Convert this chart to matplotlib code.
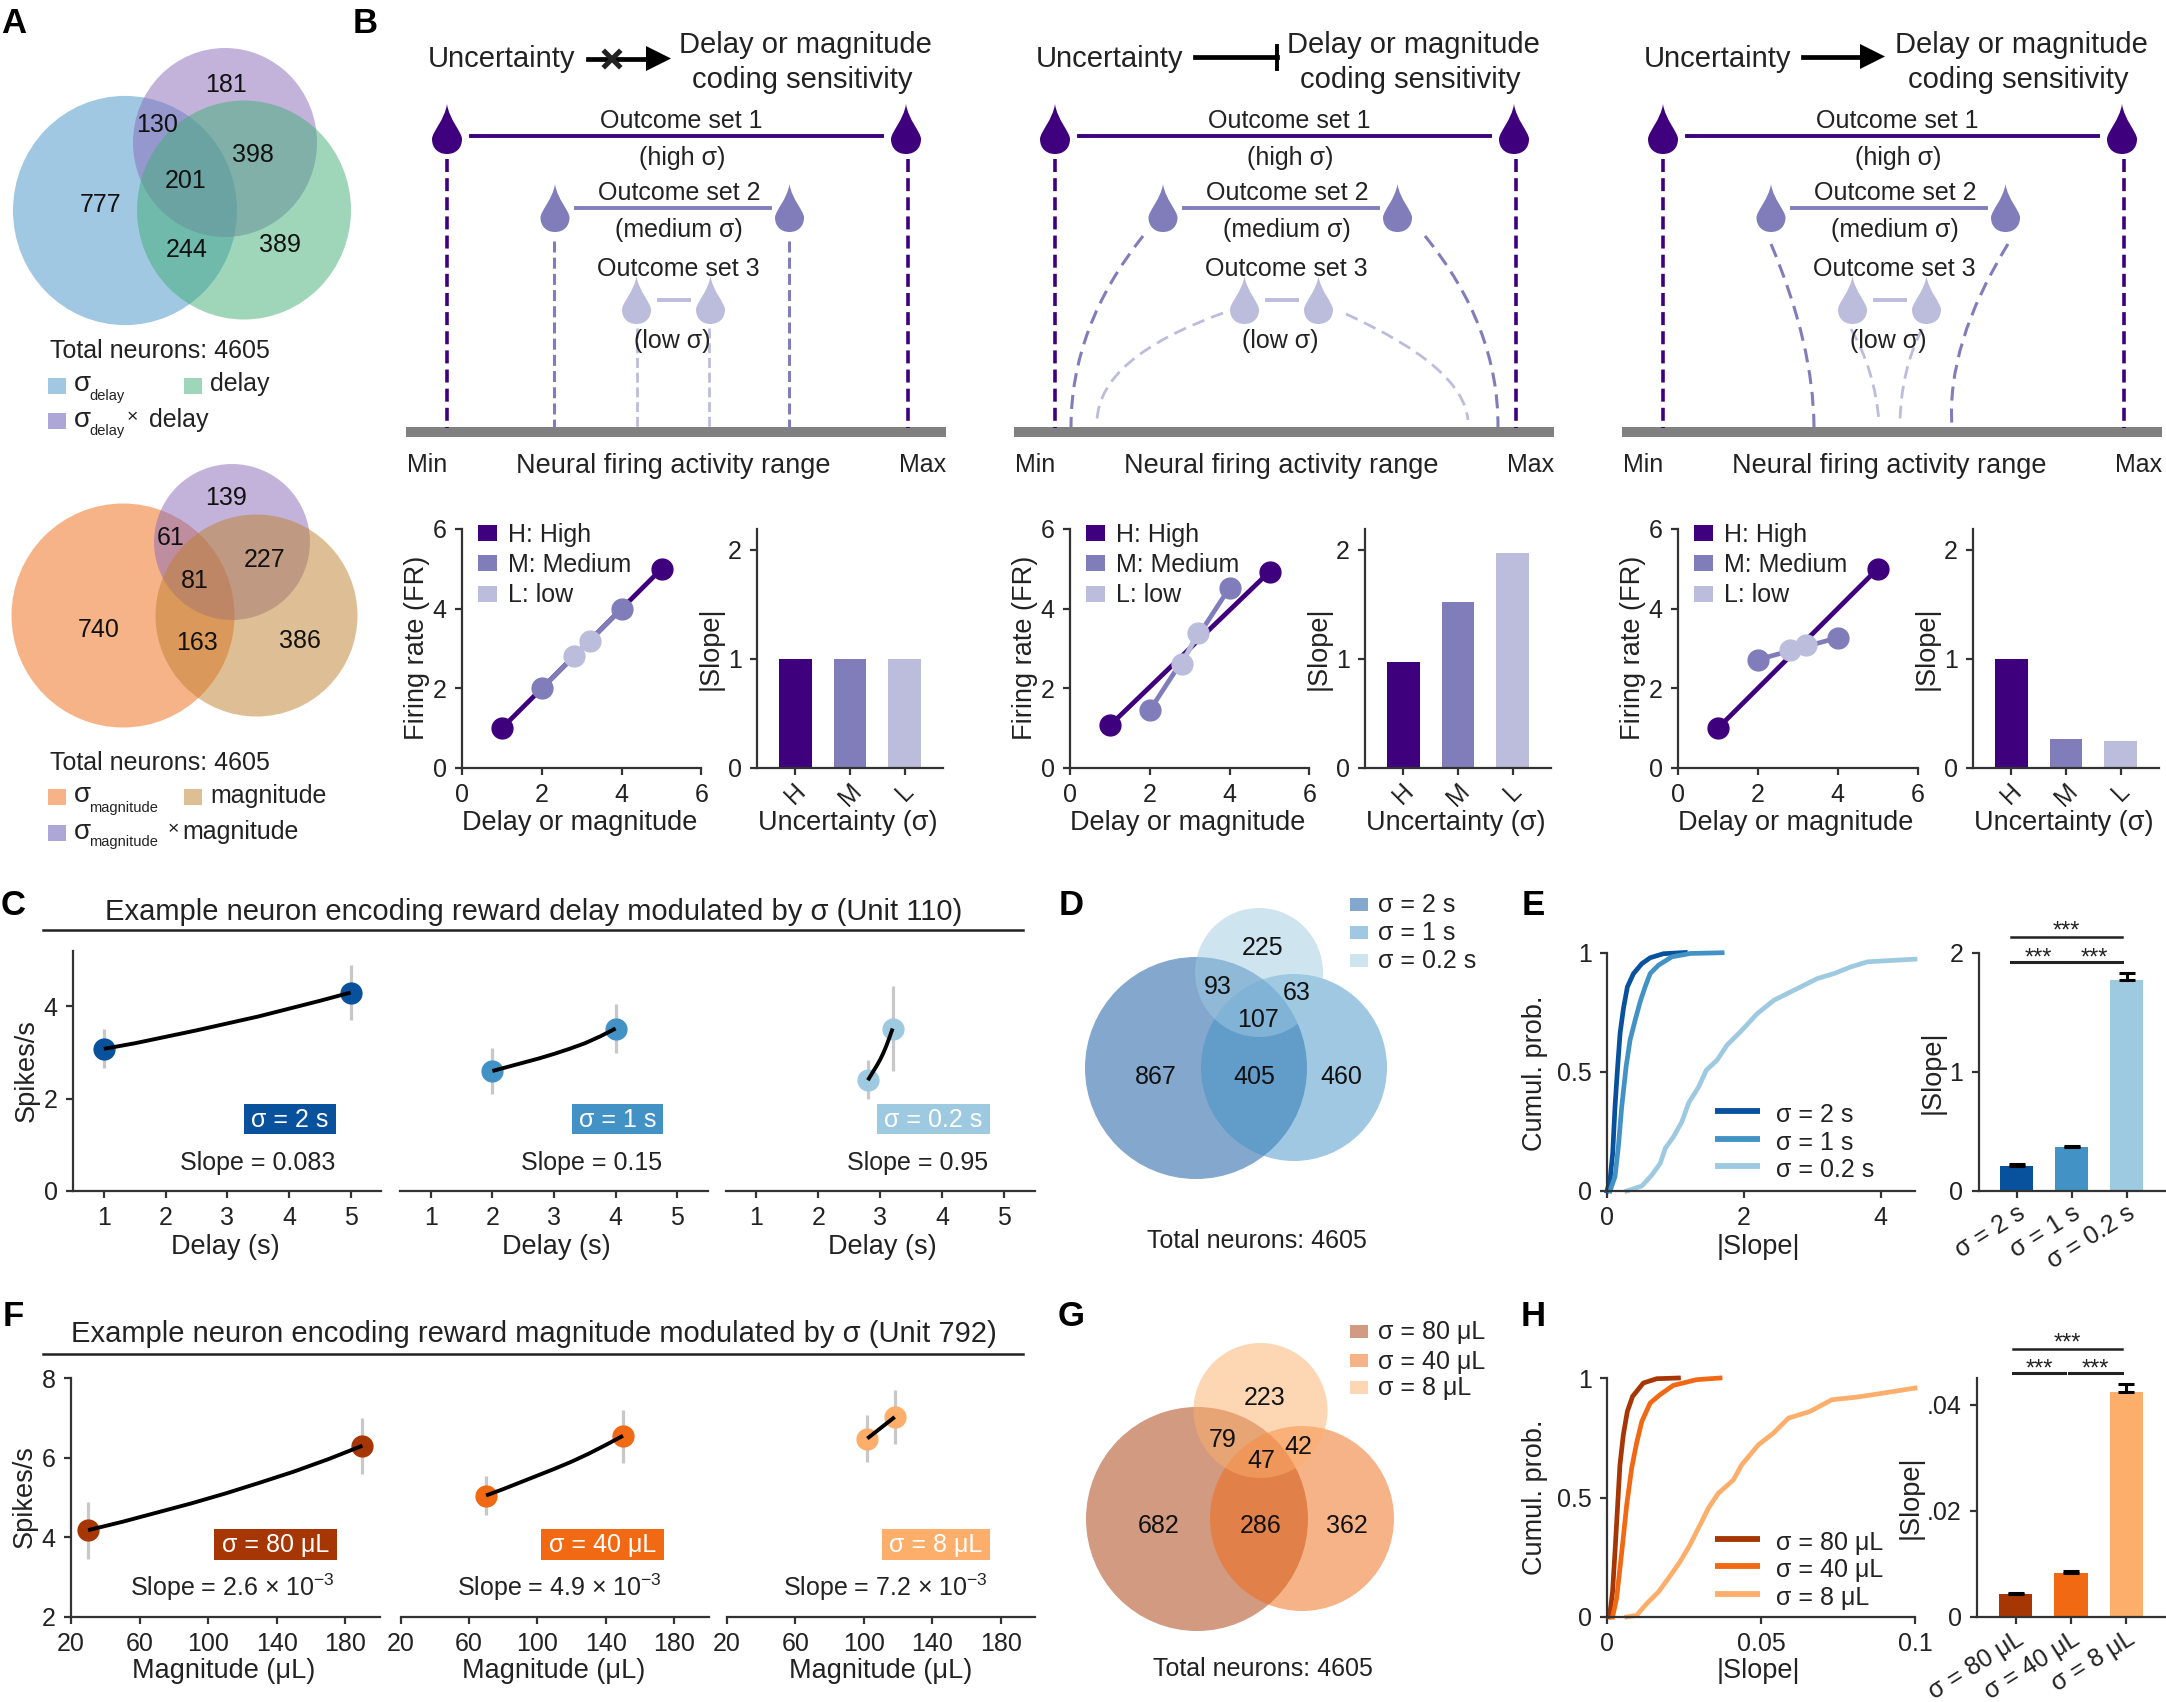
import matplotlib
matplotlib.use("Agg")
import matplotlib.pyplot as plt
from matplotlib.patches import Ellipse, PathPatch, Polygon, Rectangle
from matplotlib.path import Path

plt.rcParams["font.family"] = ["Liberation Sans", "DejaVu Sans"]
plt.rcParams["mathtext.fontset"] = "custom"
plt.rcParams["mathtext.rm"] = "Liberation Sans"
plt.rcParams["mathtext.default"] = "regular"

W, H = 2166, 1702
INK = "#222222"
SPINE = "#333333"

PURPLES = ["#3f007d", "#807dba", "#bcbddc"]
BLUES = ["#08519c", "#4292c6", "#9ecae1"]
ORANGES = ["#a63603", "#f16913", "#fdae6b"]

# panel A
A_TOP_COUNTS = ["181", "130", "398", "201", "777", "244", "389"]
A_BOTTOM_COUNTS = ["139", "61", "227", "81", "740", "163", "386"]
D_COUNTS = ["225", "93", "63", "107", "867", "405", "460"]
G_COUNTS = ["223", "79", "42", "47", "682", "286", "362"]

# panel B
B_LEVELS = ["H", "M", "L"]
B_LEGEND = ["H: High", "M: Medium", "L: low"]
B_HIGH_X = [1, 5]
B_MED_X = [2, 4]
B_LOW_X = [2.8, 3.2]
B_HIGH_Y = [[1, 5], [1.07, 4.93], [1, 5]]
B_MED_Y = [[2, 4], [1.45, 4.53], [2.72, 3.27]]
B_LOW_Y = [[2.8, 3.2], [2.6, 3.4], [2.95, 3.08]]
B_SLOPES = [[1, 1, 1], [0.97, 1.52, 1.97], [1, 0.27, 0.25]]

# panel C
C_X = [[1, 5], [2, 4], [2.8, 3.2]]
C_Y = [[3.08, 4.3], [2.6, 3.52], [2.4, 3.52]]
C_LOW = [[2.67, 3.7], [2.1, 3.0], [2.0, 2.6]]
C_HIGH = [[3.5, 4.9], [3.1, 4.05], [2.83, 4.45]]
C_FIT_X = [
    [1, 1.5, 2, 2.5, 3, 3.5, 4, 4.5, 5],
    [2, 2.25, 2.5, 2.75, 3, 3.25, 3.5, 3.75, 4],
    [2.8, 2.85, 2.9, 2.95, 3.0, 3.05, 3.1, 3.15, 3.2],
]
C_FIT_Y = [
    [3.08, 3.2, 3.34, 3.48, 3.63, 3.78, 3.95, 4.12, 4.3],
    [2.6, 2.69, 2.78, 2.87, 2.97, 3.08, 3.2, 3.35, 3.52],
    [2.4, 2.51, 2.62, 2.73, 2.85, 2.99, 3.15, 3.33, 3.52],
]
C_SIGMA = ["σ = 2 s", "σ = 1 s", "σ = 0.2 s"]
C_SLOPE = ["Slope = 0.083", "Slope = 0.15", "Slope = 0.95"]

# panel F
F_X = [[30, 190], [70, 150], [102, 118]]
F_Y = [[4.18, 6.3], [5.05, 6.55], [6.48, 7.02]]
F_LOW = [[3.45, 5.6], [4.55, 5.87], [5.9, 6.35]]
F_HIGH = [[4.88, 7.0], [5.55, 7.2], [7.07, 7.7]]
F_FIT_X = [
    [30, 50, 70, 90, 110, 130, 150, 170, 190],
    [70, 80, 90, 100, 110, 120, 130, 140, 150],
    [102, 110, 118],
]
F_FIT_Y = [
    [4.18, 4.39, 4.62, 4.85, 5.1, 5.37, 5.65, 5.96, 6.3],
    [5.05, 5.21, 5.38, 5.55, 5.72, 5.9, 6.1, 6.32, 6.55],
    [6.48, 6.75, 7.02],
]
F_SIGMA = ["σ = 80 μL", "σ = 40 μL", "σ = 8 μL"]
F_SLOPE = ["Slope = 2.6 × 10$^{-3}$", "Slope = 4.9 × 10$^{-3}$", "Slope = 7.2 × 10$^{-3}$"]

# panel E
E_X = [
    [0, 0.044, 0.083, 0.117, 0.152, 0.191, 0.24, 0.298, 0.386, 0.508, 0.631, 0.826, 1.144],
    [0.044, 0.117, 0.166, 0.215, 0.279, 0.337, 0.411, 0.484, 0.557, 0.631, 0.753, 0.949, 1.218, 1.682],
    [0.289, 0.509, 0.655, 0.778, 0.851, 0.973, 1.095, 1.193, 1.34, 1.452, 1.609, 1.755, 1.951, 2.196,
     2.44, 2.782, 3.076, 3.32, 3.565, 3.809, 4.054, 4.5],
]
E_Y = [
    [0, 0.046, 0.158, 0.353, 0.507, 0.661, 0.765, 0.856, 0.911, 0.953, 0.978, 0.995, 1],
    [0, 0.06, 0.186, 0.353, 0.521, 0.633, 0.716, 0.793, 0.856, 0.912, 0.947, 0.982, 0.996, 0.999],
    [0, 0.021, 0.067, 0.116, 0.179, 0.228, 0.291, 0.369, 0.437, 0.507, 0.549, 0.612, 0.668, 0.744,
     0.8, 0.849, 0.891, 0.912, 0.94, 0.961, 0.965, 0.972],
]
E_MEANS = [0.21, 0.365, 1.77]
E_ERR = [0.015, 0.015, 0.06]

# panel H
H_X = [
    [0.0008, 0.0018, 0.0026, 0.0034, 0.0042, 0.0053, 0.0066, 0.0083, 0.0118, 0.0161, 0.0232],
    [0.0018, 0.0031, 0.0048, 0.0064, 0.008, 0.0096, 0.0113, 0.014, 0.0172, 0.0215, 0.0291, 0.0367],
    [0.0064, 0.0096, 0.0129, 0.0167, 0.0199, 0.0237, 0.0269, 0.0302, 0.0329, 0.0361, 0.041, 0.0437,
     0.0491, 0.054, 0.0589, 0.0659, 0.073, 0.0811, 0.0898, 0.1],
]
H_Y = [
    [0, 0.105, 0.273, 0.455, 0.636, 0.762, 0.86, 0.923, 0.979, 0.997, 1],
    [0, 0.077, 0.273, 0.469, 0.622, 0.727, 0.818, 0.895, 0.93, 0.969, 0.993, 1],
    [0, 0.007, 0.056, 0.105, 0.161, 0.231, 0.301, 0.385, 0.455, 0.517, 0.573, 0.636,
     0.72, 0.769, 0.832, 0.86, 0.909, 0.92, 0.937, 0.958],
]
H_MEANS = [0.0044, 0.0083, 0.0423]
H_ERR = [0.0002, 0.0003, 0.0016]

fig = plt.figure(figsize=(W / 100, H / 100), dpi=100)
bg = fig.add_axes([0, 0, 1, 1])
bg.set_xlim(0, W)
bg.set_ylim(H, 0)
bg.axis("off")


def label(x, y, s, size=18, ha="center", va="center", color=INK, **kw):
    # text sat about 2px high against the reference
    return bg.text(x, y + 2, s, fontsize=size, ha=ha, va=va, color=color, **kw)


def panel_axes(left, right, top, bottom):
    ax = fig.add_axes([left / W, 1 - bottom / H, (right - left) / W, (bottom - top) / H])
    ax.patch.set_alpha(0)
    ax.spines["top"].set_visible(False)
    ax.spines["right"].set_visible(False)
    for side in ["left", "bottom"]:
        ax.spines[side].set_linewidth(1.6)
        ax.spines[side].set_color(SPINE)
    ax.tick_params(labelsize=18, width=1.6, length=5, color=SPINE, labelcolor=INK, pad=6)
    return ax


def set_labels(ax, xlabel=None, xpos=None, ylabel=None, ypos=None, size=19.5):
    if xlabel:
        ax.set_xlabel(xlabel, fontsize=size, color=INK, va="center")
        ax.xaxis.set_label_coords(xpos[0], xpos[1] + 2.5, transform=bg.transData)
    if ylabel:
        ax.set_ylabel(ylabel, fontsize=size, color=INK, va="center")
        ax.yaxis.set_label_coords(ypos[0], ypos[1], transform=bg.transData)


def venn(shapes, counts, spots):
    for (cx, cy, rx, ry, color) in shapes:
        bg.add_patch(Ellipse((cx, cy), 2 * rx, 2 * ry, facecolor=color, edgecolor="none", alpha=0.5))
    for s, (x, y) in zip(counts, spots):
        label(x, y, s, size=18, color="#111111")


def swatch(x, y, color, alpha=0.5, w=18, h=16):
    bg.add_patch(Rectangle((x, y - h / 2), w, h, facecolor=color, edgecolor="none", alpha=alpha))


def drop(cx, top, bottom, r, color):
    cy = bottom - r
    verts = [
        (cx, top),
        (cx + 0.15 * r, top + 0.45 * (cy - top)), (cx + r, cy - 0.45 * r), (cx + r, cy),
        (cx + r, cy + 0.6 * r), (cx + 0.6 * r, bottom), (cx, bottom),
        (cx - 0.6 * r, bottom), (cx - r, cy + 0.6 * r), (cx - r, cy),
        (cx - r, cy - 0.45 * r), (cx - 0.15 * r, top + 0.45 * (cy - top)), (cx, top),
    ]
    codes = [Path.MOVETO] + [Path.CURVE4] * 12
    bg.add_patch(PathPatch(Path(verts, codes), facecolor=color, edgecolor="none"))


def dash_curve(p0, mid, p1, color, lw):
    ctrl = (2 * mid[0] - 0.5 * (p0[0] + p1[0]), 2 * mid[1] - 0.5 * (p0[1] + p1[1]))
    path = Path([p0, ctrl, p1], [Path.MOVETO, Path.CURVE3, Path.CURVE3])
    bg.add_patch(PathPatch(path, facecolor="none", edgecolor=color, linewidth=lw, linestyle=(0, (4.6, 2.6))))


def dash_line(x, y0, y1, color, lw):
    bg.plot([x, x], [y0, y1], color=color, linewidth=lw, linestyle=(0, (3.6, 1.7)))


def draw_schematic(dx, mode):
    label(428 + dx, 57, "Uncertainty", size=21, ha="left")
    label(805 + dx, 43, "Delay or magnitude", size=21)
    label(802 + dx, 78, "coding sensitivity", size=21)

    drop(447 + dx, 104, 154, 15, PURPLES[0])
    drop(906 + dx, 104, 154, 15, PURPLES[0])
    bg.plot([471 + dx, 882 + dx], [135.5, 135.5], color=PURPLES[0], linewidth=2.8)
    label(681 + dx, 119.5, "Outcome set 1")
    label(682 + dx, 156, "(high σ)")

    drop(555 + dx, 184, 232, 14.5, PURPLES[1])
    drop(789.5 + dx, 184, 232, 14.5, PURPLES[1])
    bg.plot([576 + dx, 770 + dx], [208, 208], color=PURPLES[1], linewidth=2.8)
    label(679 + dx, 191, "Outcome set 2")
    label(679 + dx, 227.5, "(medium σ)")

    drop(636.5 + dx, 276, 324, 14.5, PURPLES[2])
    drop(710.5 + dx, 276, 324, 14.5, PURPLES[2])
    bg.plot([659 + dx, 689 + dx], [299.5, 299.5], color=PURPLES[2], linewidth=2.8)
    label(678.5 + dx, 266.5, "Outcome set 3")
    label(672 + dx, 339, "(low σ)")

    dash_line(447 + dx, 159, 428, PURPLES[0], 2.6)
    dash_line(908 + dx, 159, 428, PURPLES[0], 2.6)
    if mode == "none":
        dash_line(553.5, 241, 428, PURPLES[1], 2.2)
        dash_line(789, 241, 428, PURPLES[1], 2.2)
        dash_line(636.5, 328, 428, PURPLES[2], 2.0)
        dash_line(708.5, 328, 428, PURPLES[2], 2.0)
    elif mode == "inhibit":
        dash_curve((1143, 236), (1089, 329), (1071, 427), PURPLES[1], 2.2)
        dash_curve((1425, 236), (1480, 329), (1498, 427), PURPLES[1], 2.2)
        dash_curve((1223, 313), (1130, 362), (1097, 420), PURPLES[2], 2.0)
        dash_curve((1346, 314), (1435, 367), (1468, 420), PURPLES[2], 2.0)
    else:
        dash_curve((1771, 244), (1803, 340), (1814, 427), PURPLES[1], 2.2)
        dash_curve((2008, 244), (1963, 340), (1952, 427), PURPLES[1], 2.2)
        dash_curve((1851, 329), (1870, 373), (1879, 422), PURPLES[2], 2.0)
        dash_curve((1922, 329), (1906, 373), (1900, 422), PURPLES[2], 2.0)

    bg.add_patch(Rectangle((406 + dx, 427), 540, 9.5, facecolor="#808080", edgecolor="none"))
    label(407 + dx, 463.5, "Min", ha="left")
    label(673 + dx, 464, "Neural firing activity range", size=19.5)
    label(946 + dx, 463.5, "Max", ha="right")


def draw_b_charts(i, dx):
    ax = panel_axes(462 + dx, 701.5 + dx, 529, 768)
    ax.plot(B_HIGH_X, B_HIGH_Y[i], color=PURPLES[0], linewidth=3.4, marker="o", markersize=15, clip_on=False)
    ax.plot(B_MED_X, B_MED_Y[i], color=PURPLES[1], linewidth=3.4, marker="o", markersize=15, clip_on=False)
    ax.plot(B_LOW_X, B_LOW_Y[i], color=PURPLES[2], linewidth=3.4, marker="o", markersize=15, clip_on=False)
    ax.set_xlim(0, 6)
    ax.set_ylim(0, 6)
    ax.set_xticks([0, 2, 4, 6])
    ax.set_yticks([0, 2, 4, 6])
    set_labels(ax, "Delay or magnitude", (580 + dx, 821), "Firing rate (FR)", (417 + dx, 648))
    for s, y, c in zip(B_LEGEND, [533, 563, 593.5], PURPLES):
        swatch(478 + dx, y, c, alpha=1, w=19, h=16)
        label(508 + dx, y, s, ha="left")

    ax = panel_axes(757 + dx, 943 + dx, 529, 768)
    ax.bar(range(3), B_SLOPES[i], width=0.6, color=PURPLES)
    ax.set_xlim(-0.7, 2.7)
    ax.set_ylim(0, 2.19)
    ax.set_yticks([0, 1, 2])
    ax.set_xticks(range(3))
    ax.set_xticklabels(B_LEVELS, rotation=45)
    ax.tick_params(axis="x", pad=3)
    set_labels(ax, "Uncertainty (σ)", (848 + dx, 821), "|Slope|", (711 + dx, 648))


def draw_example(left, right, top, bottom, xs, ys, low, high, fit_x, fit_y, color, xlim, ylim, xticks):
    ax = panel_axes(left, right, top, bottom)
    ax.vlines(xs, low, high, color="#c8c8c8", linewidth=2.3, zorder=2)
    ax.plot(xs, ys, linestyle="none", marker="o", markersize=15, color=color, zorder=3, clip_on=False)
    ax.plot(fit_x, fit_y, color="black", linewidth=2.8, zorder=4, solid_capstyle="butt")
    ax.set_xlim(*xlim)
    ax.set_ylim(*ylim)
    ax.set_xticks(xticks)
    return ax


def draw_bars(left, right, top, bottom, means, errs, colors, ticklabels, ylim, yticks, ylabels, yl_pos):
    ax = panel_axes(left, right, top, bottom)
    ax.bar(range(3), means, width=0.6, color=colors)
    ax.errorbar(range(3), means, yerr=[[0, 0, 0], errs], fmt="none", ecolor="black",
                elinewidth=2.2, capsize=5.5, capthick=2.2)
    ax.set_xlim(-0.7, 2.7)
    ax.set_ylim(*ylim)
    ax.set_yticks(yticks)
    ax.set_yticklabels(ylabels)
    ax.set_xticks(range(3))
    ax.set_xticklabels(ticklabels, rotation=32, ha="right", rotation_mode="anchor")
    ax.tick_params(axis="x", pad=2)
    set_labels(ax, ylabel="|Slope|", ypos=yl_pos)
    return ax


def brackets(x0, xm0, xm1, x1, y_top, y_low, y_star_top, y_star_low):
    bg.plot([x0, x1], [y_top, y_top], color="#222222", linewidth=1.8)
    bg.plot([x0, xm0], [y_low, y_low], color="#222222", linewidth=2.2)
    bg.plot([xm1, x1], [y_low, y_low], color="#222222", linewidth=2.2)
    label((x0 + x1) / 2, y_star_top + 3, "***", size=17)
    label((x0 + xm0) / 2, y_star_low + 3, "***", size=17)
    label((xm1 + x1) / 2, y_star_low + 3, "***", size=17)


# panel letters
for s, x, y in [("A", 1, 31), ("B", 353, 31), ("C", 1, 913), ("D", 1059, 913), ("E", 1522, 913),
                ("F", 3, 1324), ("G", 1058, 1324), ("H", 1521, 1324)]:
    label(x, y, s, size=25, ha="left", va="baseline", color="black", fontweight="bold")

# A
venn([(125, 210.5, 112, 114.6, "#4292c6"), (225, 142.5, 92, 94.5, "#8969b9"), (244, 210, 107, 109.5, "#41ae76")],
     A_TOP_COUNTS,
     [(226, 83), (157, 123), (253, 153.5), (186, 179), (101, 203.5), (187, 248), (280, 242.5)])
label(50, 349.5, "Total neurons: 4605", ha="left")
swatch(48, 386, "#4292c6")
label(74, 382, "σ", size=20, ha="left")
label(89, 394, "delay", size=10.5, ha="left")
swatch(184, 386, "#41ae76")
label(210, 382, "delay", ha="left")
swatch(48, 421, "#aca7d7", alpha=1)
label(74, 418, "σ", size=20, ha="left")
label(89, 429, "delay", size=10.5, ha="left")
label(127, 416, "×", size=14, ha="left")
label(149, 418, "delay", ha="left")

venn([(123, 615.5, 111.5, 112, "#f16913"), (232, 542, 78, 78, "#8969b9"), (256.5, 615.5, 101, 101, "#bf812d")],
     A_BOTTOM_COUNTS,
     [(226, 496), (171, 536), (265, 558), (195, 579), (99, 628), (196.5, 641), (300, 638.5)])
label(50, 761, "Total neurons: 4605", ha="left")
swatch(48, 797, "#f16913")
label(74, 793, "σ", size=20, ha="left")
label(89, 806, "magnitude", size=10.5, ha="left")
swatch(184, 797, "#bf812d")
label(210, 794, "magnitude", ha="left")
swatch(48, 833, "#aca7d7", alpha=1)
label(74, 830, "σ", size=20, ha="left")
label(89, 840, "magnitude", size=10.5, ha="left")
label(168, 828, "×", size=14, ha="left")
label(182.5, 830, "magnitude", ha="left")

# B
for i, (dx, mode) in enumerate([(0, "none"), (608, "inhibit"), (1216, "excite")]):
    draw_schematic(dx, mode)
    draw_b_charts(i, dx)

bg.plot([588, 650], [58.5, 58.5], color="black", linewidth=3.4)
bg.add_patch(Polygon([(646, 46), (671, 58.5), (646, 71)], facecolor="black", edgecolor="none"))
bg.plot([605, 619], [52, 66], color="#222222", linewidth=3.6)
bg.plot([605, 619], [66, 52], color="#222222", linewidth=3.6)

bg.plot([1195, 1277], [56.5, 56.5], color="black", linewidth=3.4)
bg.plot([1277, 1277], [46, 69], color="black", linewidth=2.8)

bg.plot([1803, 1865], [56.5, 56.5], color="black", linewidth=3.4)
bg.add_patch(Polygon([(1860, 44), (1885, 56.5), (1860, 69)], facecolor="black", edgecolor="none"))

# C
label(534, 909.5, "Example neuron encoding reward delay modulated by σ (Unit 110)", size=21)
bg.plot([43, 1023], [930, 930], color="#222222", linewidth=1.8)
c_lims = [(73, 381.5), (400, 708), (725.5, 1035)]
c_boxes = [(244, 336), (572, 663), (877, 990)]
c_slope_x = [258, 592, 918]
for i in range(3):
    ax = draw_example(c_lims[i][0], c_lims[i][1], 951, 1191, C_X[i], C_Y[i], C_LOW[i], C_HIGH[i],
                      C_FIT_X[i], C_FIT_Y[i], BLUES[i], (0.5, 5.5), (0, 5.2), [1, 2, 3, 4, 5])
    if i == 0:
        ax.set_yticks([0, 2, 4])
        set_labels(ax, "Delay (s)", (225.5, 1244), "Spikes/s", (27, 1071))
    else:
        ax.spines["left"].set_visible(False)
        ax.set_yticks([])
        set_labels(ax, "Delay (s)", ((c_lims[i][0] + c_lims[i][1]) / 2 + 2, 1244))
    x0, x1 = c_boxes[i]
    bg.add_patch(Rectangle((x0, 1104), x1 - x0, 30, facecolor=BLUES[i], edgecolor="none"))
    label((x0 + x1) / 2, 1118, C_SIGMA[i], color="white")
    label(c_slope_x[i], 1161, C_SLOPE[i])

# F
label(534, 1332, "Example neuron encoding reward magnitude modulated by σ (Unit 792)", size=21)
bg.plot([43, 1023], [1354, 1354], color="#222222", linewidth=1.8)
f_lims = [(71, 379.5), (400.5, 708.5), (727, 1035)]
f_boxes = [(214, 337), (541, 664), (881.5, 990)]
f_slope_x = [232, 559, 885]
for i in range(3):
    ax = draw_example(f_lims[i][0], f_lims[i][1], 1378, 1617, F_X[i], F_Y[i], F_LOW[i], F_HIGH[i],
                      F_FIT_X[i], F_FIT_Y[i], ORANGES[i], (20, 200), (2, 8), [20, 60, 100, 140, 180])
    if i == 0:
        ax.set_yticks([2, 4, 6, 8])
        set_labels(ax, "Magnitude (μL)", (223.5, 1669), "Spikes/s", (25, 1497))
    else:
        ax.spines["left"].set_visible(False)
        ax.set_yticks([])
        set_labels(ax, "Magnitude (μL)", ((f_lims[i][0] + f_lims[i][1]) / 2 - 0.5, 1669))
    x0, x1 = f_boxes[i]
    bg.add_patch(Rectangle((x0, 1529), x1 - x0, 31, facecolor=ORANGES[i], edgecolor="none"))
    label((x0 + x1) / 2, 1543, F_SIGMA[i], color="white")
    label(f_slope_x[i], 1585, F_SLOPE[i])

# D
venn([(1196, 1068, 111, 111, BLUES[0]), (1294, 1067.5, 93, 93.5, BLUES[1]), (1259, 972.5, 64, 64.5, BLUES[2])],
     D_COUNTS,
     [(1263, 946), (1218, 985), (1297, 991.5), (1258, 1018), (1156, 1075), (1254, 1075), (1341.5, 1075)])
label(1257, 1238.5, "Total neurons: 4605")
for s, y, c in zip(C_SIGMA, [904, 932.5, 960.5], BLUES):
    swatch(1350, y, c, h=13)
    label(1377.5, y - 1.5, s, ha="left")

# G
venn([(1197, 1519, 111, 112, ORANGES[0]), (1302, 1518.5, 92, 92.5, ORANGES[1]), (1260.5, 1410.5, 67, 67.5, ORANGES[2])],
     G_COUNTS,
     [(1265, 1396), (1223, 1438), (1298.5, 1445), (1261, 1459), (1158.5, 1524), (1261, 1524), (1347, 1524)])
label(1263, 1666.5, "Total neurons: 4605")
for s, y, c in zip(F_SIGMA, [1331.5, 1360.5, 1387], ORANGES):
    swatch(1350, y, c, h=13)
    label(1377.5, y - 1, s, ha="left")

# E
ax = panel_axes(1607, 1915, 952.5, 1191)
for i in range(3):
    ax.plot(E_X[i], E_Y[i], color=BLUES[i], linewidth=3.4, clip_on=False)
ax.set_xlim(0, 4.5)
ax.set_ylim(0, 1)
ax.set_xticks([0, 2, 4])
ax.set_yticks([0, 0.5, 1])
ax.set_yticklabels(["0", "0.5", "1"])
set_labels(ax, "|Slope|", (1758, 1245), "Cumul. prob.", (1535, 1073))
for s, y, c in zip(C_SIGMA, [1111, 1139, 1166], BLUES):
    bg.plot([1715, 1760], [y, y], color=c, linewidth=4.2, solid_capstyle="butt")
    label(1776, y + 2, s, ha="left")

draw_bars(1978.5, 2165, 952.5, 1191, E_MEANS, E_ERR, BLUES, C_SIGMA, (0, 2), [0, 1, 2], ["0", "1", "2"], (1932.5, 1072))
brackets(2011, 2065, 2068, 2121.5, 937, 961.5, 927, 954)

# H
ax = panel_axes(1607, 1915, 1378, 1617)
for i in range(3):
    ax.plot(H_X[i], H_Y[i], color=ORANGES[i], linewidth=3.4, clip_on=False)
ax.set_xlim(0, 0.1)
ax.set_ylim(0, 1)
ax.set_xticks([0, 0.05, 0.1])
ax.set_xticklabels(["0", "0.05", "0.1"])
ax.set_yticks([0, 0.5, 1])
ax.set_yticklabels(["0", "0.5", "1"])
set_labels(ax, "|Slope|", (1758, 1669), "Cumul. prob.", (1535, 1497))
for s, y, c in zip(F_SIGMA, [1539, 1566, 1593.5], ORANGES):
    bg.plot([1715, 1760], [y, y], color=c, linewidth=4.2, solid_capstyle="butt")
    label(1776, y + 2, s, ha="left")

draw_bars(1977, 2165, 1378, 1617, H_MEANS, H_ERR, ORANGES, F_SIGMA, (0, 0.045), [0, 0.02, 0.04], ["0", ".02", ".04"], (1911, 1497))
brackets(2013, 2065, 2069, 2122, 1349, 1373, 1339, 1365)

fig.savefig("out.png", dpi=100)
